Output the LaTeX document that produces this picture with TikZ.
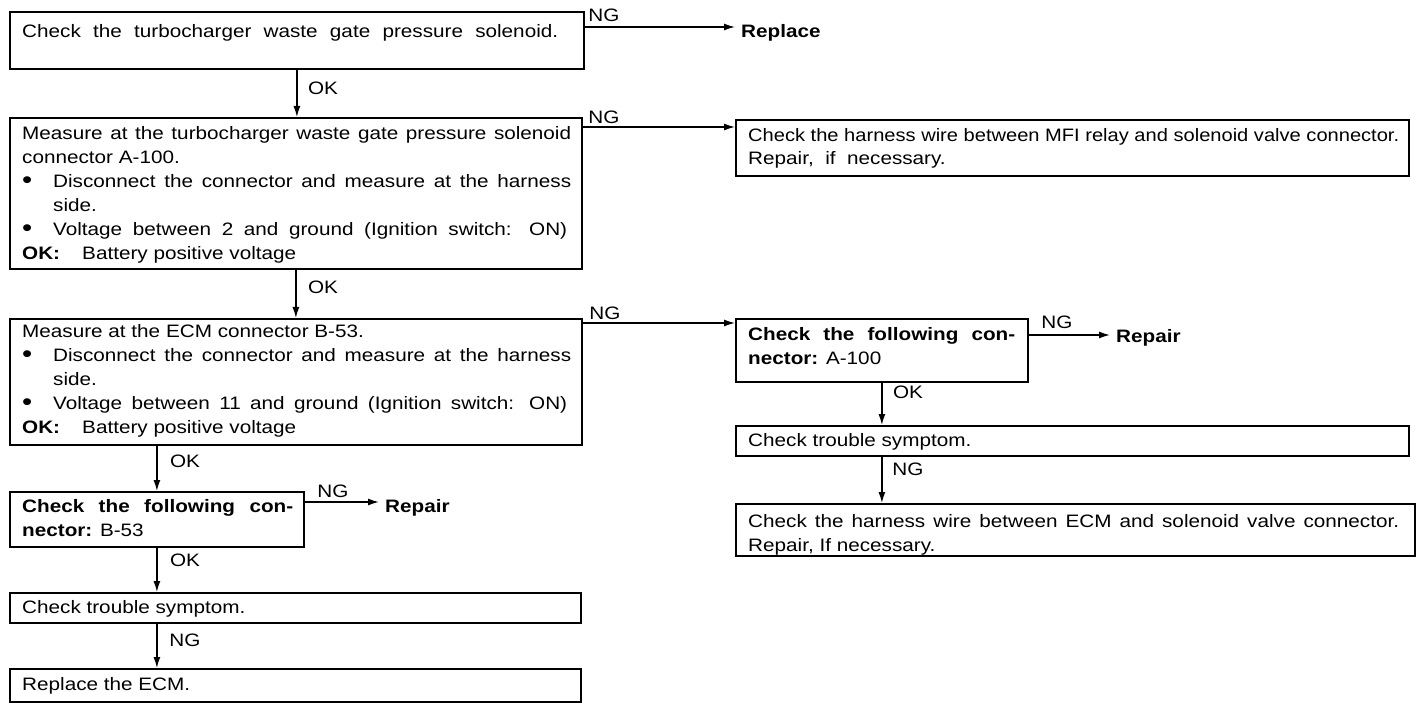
\documentclass[tikz,border=0pt]{standalone}
\usepackage{graphicx}
\usepackage{fontspec}
\setmainfont{Liberation Sans}[FakeStretch=1.15]
\usetikzlibrary{arrows.meta}
\newsavebox\fitbox
\newcommand\fitto[2]{\sbox\fitbox{#2}\ifdim\wd\fitbox>#1\relax\resizebox{#1}{\height}{\usebox\fitbox}\else\makebox[#1][s]{#2}\fi}
\newcommand\bul{\makebox[31pt][l]{\raisebox{-1pt}{\scalebox{1.4}{\textbullet}}}}
\newcommand\okk{\makebox[60pt][l]{\textbf{OK:}}}
\begin{document}
\begin{tikzpicture}[x=1pt,y=-1pt,
  box/.style={draw, line width=1.8pt, anchor=north west, inner sep=0pt},
  txt/.style={anchor=north west, inner sep=0pt, align=left, font=\fontsize{18}{24}\selectfont},
  lbl/.style={inner sep=0pt, font=\fontsize{18}{24}\selectfont},
  res/.style={anchor=west, inner xsep=6pt, inner ysep=0pt, font=\bfseries\fontsize{18}{24}\selectfont},
  arr/.style={line width=1.4pt, -{Latex[length=11pt,width=7pt]}},
]
\useasboundingbox (0,0) rectangle (1424,708);
% boxes
\node[box, minimum width=574pt, minimum height=57pt] (b1) at (9,11) {};
\node[box, minimum width=572pt, minimum height=151pt] (b2) at (9,117) {};
\node[box, minimum width=673pt, minimum height=56pt] (b3) at (735,119) {};
\node[box, minimum width=572pt, minimum height=126pt] (b4) at (9,318) {};
\node[box, minimum width=292pt, minimum height=63pt] (b5) at (735,318) {};
\node[box, minimum width=673pt, minimum height=30pt] (b6) at (735,425) {};
\node[box, minimum width=679pt, minimum height=52pt] (b7) at (735,503) {};
\node[box, minimum width=294pt, minimum height=55pt] (b8) at (9,491) {};
\node[box, minimum width=571pt, minimum height=30pt] (b9) at (9,592) {};
\node[box, minimum width=571pt, minimum height=33pt] (b10) at (9,668) {};
% texts
\node[txt] (t1) at (22,24) {\fitto{536pt}{Check the turbocharger waste gate pressure solenoid.}};
\node[txt] (t2) at (22,126) {\fitto{549pt}{Measure at the turbocharger waste gate pressure solenoid}\\
connector A-100.\\
\bul\fitto{518pt}{Disconnect the connector and measure at the harness}\\
\hspace*{31pt}side.\\
\bul\fitto{514pt}{Voltage between 2 and ground (Ignition switch: ON)}\\
\okk Battery positive voltage};
\node[txt, font=\fontsize{18}{23}\selectfont] (t3) at (748,128) {\fitto{651pt}{Check the harness wire between MFI relay and solenoid valve connector.}\\
Repair,\ \ if\ \ necessary.};
\node[txt] (t4) at (22,324) {Measure at the ECM connector B-53.\\
\bul\fitto{518pt}{Disconnect the connector and measure at the harness}\\
\hspace*{31pt}side.\\
\bul\fitto{514pt}{Voltage between 11 and ground (Ignition switch: ON)}\\
\okk Battery positive voltage};
\node[txt] (t5) at (748,327) {\fitto{267pt}{\bfseries Check the following con-}\\
\textbf{nector:} A-100};
\node[txt] (t6) at (748,433) {Check trouble symptom.};
\node[txt] (t7) at (748,514) {\fitto{651pt}{Check the harness wire between ECM and solenoid valve connector.}\\
Repair, If necessary.};
\node[txt] (t8) at (22,499) {\fitto{271pt}{\bfseries Check the following con-}\\
\textbf{nector:} B-53};
\node[txt] (t9) at (22,600) {Check trouble symptom.};
\node[txt] (t10) at (22,677) {Replace the ECM.};
% result texts
\node[res] (r1) at (735,33) {Replace};
\node[res] (r2) at (1110,338) {Repair};
\node[res] (r3) at (379,508) {Repair};
% connectors
\draw[arr] ([yshift=-16pt]b1.north east) -- ([yshift=-16pt]b1.north east -| r1.west);
\draw[arr] ([yshift=-10pt]b2.north east) -- ([yshift=-10pt]b2.north east -| b3.west);
\draw[arr] ([yshift=-5pt]b4.north east) -- ([yshift=-5pt]b4.north east -| b5.west);
\draw[arr] ([yshift=-17pt]b5.north east) -- ([yshift=-17pt]b5.north east -| r2.west);
\draw[arr] ([yshift=-11pt]b8.north east) -- ([yshift=-11pt]b8.north east -| r3.west);
\draw[arr] (b1.south) -- (b1.south |- b2.north);
\draw[arr] (b2.south) -- (b2.south |- b4.north);
\draw[arr] (b8.north |- b4.south) -- (b8.north);
\draw[arr] (b8.south) -- (b8.south |- b9.north);
\draw[arr] (b9.south -| b8.south) -- (b8.south |- b10.north);
\draw[arr] (b5.south) -- (b5.south |- b6.north);
\draw[arr] (b5.south |- b6.south) -- (b5.south |- b7.north);
% labels
\node[lbl] (l1) at (604,15) {NG};
\node[lbl] (l2) at (323,88) {OK};
\node[lbl] (l3) at (604,117) {NG};
\node[lbl] (l4) at (323,287) {OK};
\node[lbl] (l5) at (605,313) {NG};
\node[lbl] (l6) at (1057,322) {NG};
\node[lbl] (l7) at (908,392) {OK};
\node[lbl] (l8) at (908,469) {NG};
\node[lbl] (l9) at (185,461) {OK};
\node[lbl] (l10) at (333,491) {NG};
\node[lbl] (l11) at (185,560) {OK};
\node[lbl] (l12) at (185,640) {NG};
\end{tikzpicture}
\end{document}
